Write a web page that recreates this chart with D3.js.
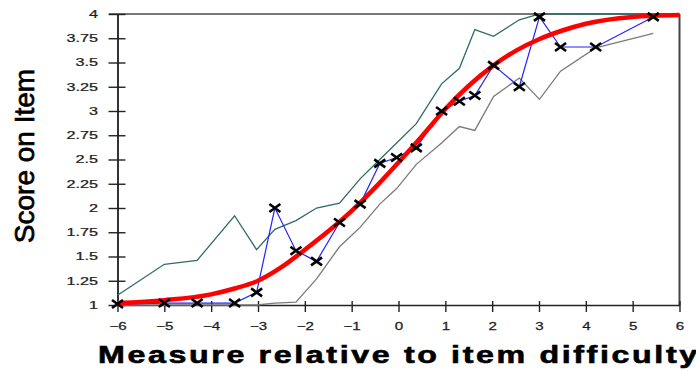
<!DOCTYPE html>
<html>
<head>
<meta charset="utf-8">
<script src="https://cdn.jsdelivr.net/npm/d3@7"></script>
<style>
  html, body { margin: 0; padding: 0; background: #fff; }
  svg { display: block; }
</style>
</head>
<body>
<svg id="chart" width="696" height="371"></svg>
<script>
// Person measures (relative to item difficulty) for each score group
const measures = [-6.0, -5.0, -4.3, -3.5, -3.03, -2.64, -2.19, -1.75, -1.26, -0.82, -0.40,
                  -0.04, 0.38, 0.92, 1.30, 1.63, 2.03, 2.58, 3.01, 3.46, 4.21, 5.44];
// Observed average score on the item
const observedScores = [1.01, 1.02, 1.02, 1.02, 1.13, 2.0, 1.56, 1.45, 1.85, 2.04, 2.46,
                        2.52, 2.62, 3.0, 3.10, 3.16, 3.47, 3.25, 3.97, 3.66, 3.66, 3.97];
// Upper and lower confidence bands at the same measures
const upperBand = [1.10, 1.42, 1.46, 1.92, 1.57, 1.78, 1.87, 2.0, 2.05, 2.30, 2.50,
                   2.67, 2.87, 3.28, 3.44, 3.84, 3.77, 3.94, 4.0, 4.0, 4.0, 4.0];
const lowerBand = [1.0, 1.0, 1.0, 1.0, 1.0, 1.02, 1.03, 1.27, 1.60, 1.80, 2.04,
                   2.20, 2.45, 2.67, 2.84, 2.80, 3.15, 3.34, 3.12, 3.41, 3.65, 3.80];
// Model expected score curve
const curveMeasures = [-6, -5, -4, -3.5, -3, -2.5, -2, -1.5, -1, -0.5, 0, 0.5, 1, 1.5, 2, 2.5, 3, 3.5, 4, 5, 6];
const expectedScores = [1.02, 1.05, 1.11, 1.17, 1.25, 1.39, 1.57, 1.76, 1.97, 2.21, 2.47, 2.74, 3.02,
                        3.26, 3.46, 3.62, 3.74, 3.83, 3.90, 3.97, 3.99];

const xTicks = [-6, -5, -4, -3, -2, -1, 0, 1, 2, 3, 4, 5, 6];
const yTicks = [1, 1.25, 1.5, 1.75, 2, 2.25, 2.5, 2.75, 3, 3.25, 3.5, 3.75, 4];
const xTitle = "Measure relative to item difficulty";
const yTitle = "Score on Item";

const svg = d3.select("#chart");
const plotLeft = 117.5, plotRight = 679.5, plotTop = 14, plotBottom = 305;

const x = d3.scaleLinear().domain([-6, 6]).range([plotLeft, plotRight]);
const y = d3.scaleLinear().domain([1, 4]).range([plotBottom, plotTop]);

svg.append("rect").attr("width", 696).attr("height", 371).attr("fill", "#fff");

// frame: top and right edges
svg.append("line").attr("x1", 109).attr("x2", plotRight).attr("y1", plotTop).attr("y2", plotTop)
  .attr("stroke", "#4a4a4a").attr("stroke-width", 1.5);
svg.append("line").attr("x1", plotRight).attr("x2", plotRight).attr("y1", plotTop).attr("y2", plotBottom)
  .attr("stroke", "#444").attr("stroke-width", 2);

// y axis with ticks crossing the axis line
const yAxis = svg.append("g").attr("transform", `translate(${plotLeft},0)`)
  .call(d3.axisLeft(y).tickValues(yTicks).tickSize(9).tickSizeOuter(0).tickFormat(d3.format("")));
yAxis.select(".domain").attr("stroke", "#333").attr("stroke-width", 2);
yAxis.selectAll(".tick line").attr("x1", 8).attr("stroke", "#222").attr("stroke-width", 1.4);
yAxis.selectAll(".tick text")
  .attr("x", 0)
  .attr("transform", "translate(-19.5,0) scale(1.5,1)")
  .attr("text-anchor", "end")
  .attr("fill", "#1e1e1e")
  .attr("stroke", "#1e1e1e").attr("stroke-width", 0.25)
  .style("font-family", "'Liberation Sans', Arial, sans-serif")
  .style("font-size", "10.8px");

// x axis with ticks crossing the axis line
const xAxis = svg.append("g").attr("transform", `translate(0,${plotBottom})`)
  .call(d3.axisBottom(x).tickValues(xTicks).tickSize(7).tickSizeOuter(0).tickFormat(d3.format("")));
xAxis.select(".domain").attr("stroke", "#222").attr("stroke-width", 1.6);
xAxis.selectAll(".tick line").attr("y1", -4).attr("stroke", "#222").attr("stroke-width", 1.4);
xAxis.selectAll(".tick text")
  .attr("x", 0).attr("y", 0).attr("dy", "0.35em")
  .attr("transform", "translate(0,21) scale(1.4,1)")
  .attr("fill", "#1e1e1e")
  .attr("stroke", "#1e1e1e").attr("stroke-width", 0.25)
  .style("font-family", "'Liberation Sans', Arial, sans-serif")
  .style("font-size", "10.8px");

const line = d3.line().x(d => x(d[0])).y(d => y(d[1]));

// confidence bands
svg.append("path").datum(d3.zip(measures, upperBand)).attr("d", line)
  .attr("fill", "none").attr("stroke", "#2e6b66").attr("stroke-width", 1.3);
svg.append("path").datum(d3.zip(measures, lowerBand)).attr("d", line)
  .attr("fill", "none").attr("stroke", "#7a7a7a").attr("stroke-width", 1.3);

// observed scores
svg.append("path").datum(d3.zip(measures, observedScores)).attr("d", line)
  .attr("fill", "none").attr("stroke", "#2020ff").attr("stroke-width", 1.2);

// model expected score curve
svg.append("path").datum(d3.zip(curveMeasures, expectedScores))
  .attr("d", d3.line().x(d => x(d[0])).y(d => y(d[1])).curve(d3.curveMonotoneX))
  .attr("fill", "none").attr("stroke", "#ff0000").attr("stroke-width", 4.5)
  .attr("stroke-linecap", "butt");

// observed point markers
svg.append("g").selectAll("path").data(d3.zip(measures, observedScores)).join("path")
  .attr("transform", d => `translate(${x(d[0])},${y(d[1])})`)
  .attr("d", "M-5.5,-4L5.5,4M-5.5,4L5.5,-4")
  .attr("stroke", "#000").attr("stroke-width", 2.6).attr("fill", "none");

// axis titles
svg.append("g").attr("transform", "translate(98,363) scale(1.4,1)")
  .append("text")
  .attr("x", 0).attr("y", 0)
  .attr("textLength", 428).attr("lengthAdjust", "spacing")
  .attr("fill", "#000").attr("stroke", "#000").attr("stroke-width", 0.6)
  .style("font-family", "'Liberation Sans', Arial, sans-serif")
  .style("font-weight", "bold").style("font-size", "23px")
  .text(xTitle);

svg.append("text")
  .attr("transform", "translate(34,156) rotate(-90)")
  .attr("text-anchor", "middle")
  .attr("fill", "#000").attr("stroke", "#000").attr("stroke-width", 0.7)
  .style("font-family", "'Liberation Sans', Arial, sans-serif")
  .style("font-size", "28px")
  .text(yTitle);
</script>
</body>
</html>
